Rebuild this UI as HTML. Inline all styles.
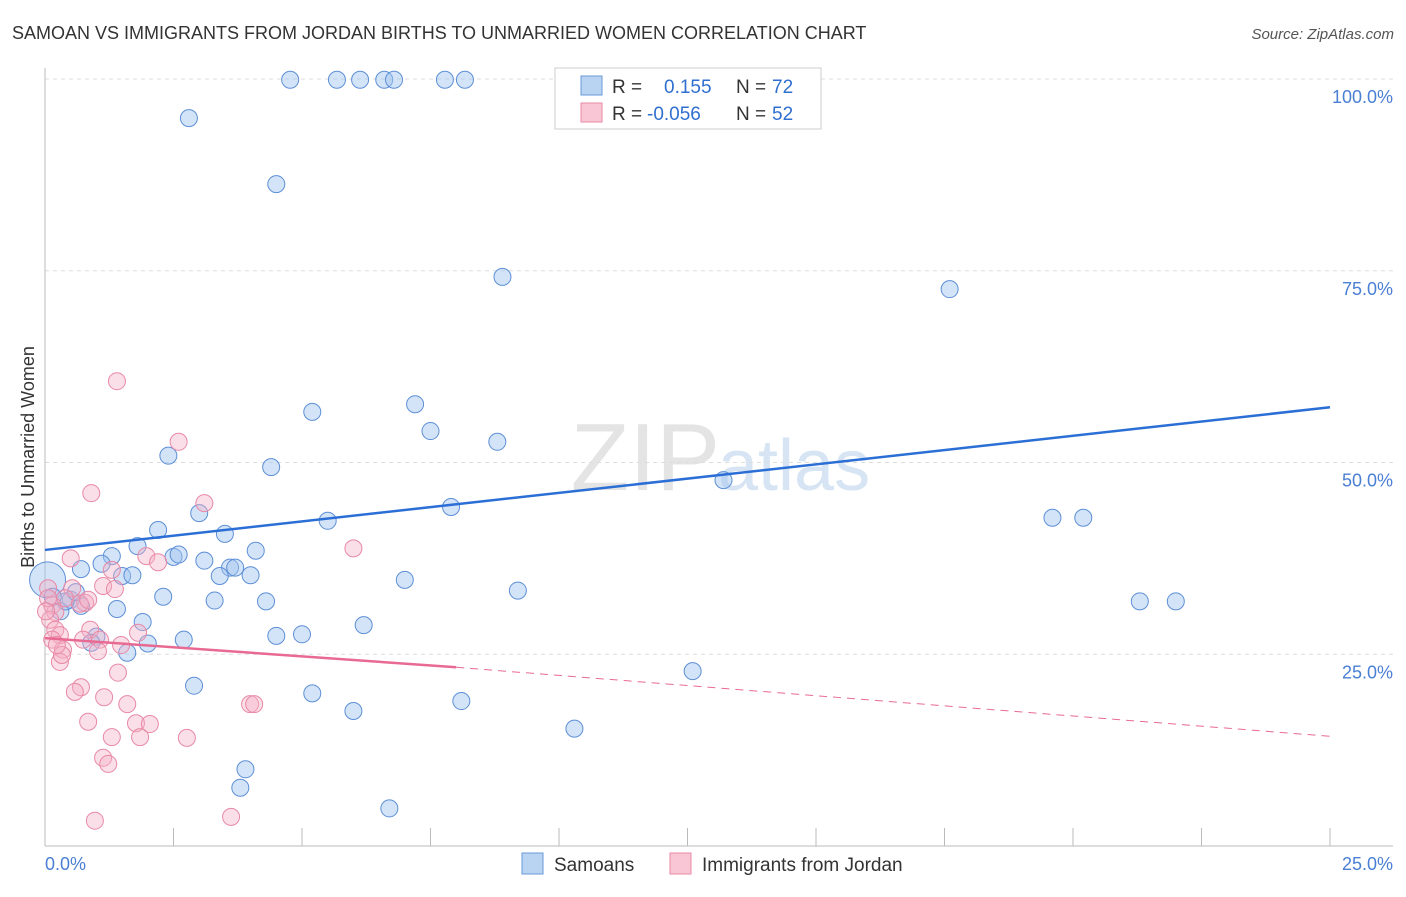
<!DOCTYPE html>
<html><head><meta charset="utf-8"><style>
body{margin:0;background:#fff;font-family:"Liberation Sans",sans-serif;}
svg text{font-family:"Liberation Sans",sans-serif;}
</style></head><body>
<svg id="c" width="1406" height="892">
<text x="12" y="39" font-size="18" fill="#333">SAMOAN VS IMMIGRANTS FROM JORDAN BIRTHS TO UNMARRIED WOMEN CORRELATION CHART</text>
<text x="1394" y="39" font-size="15" fill="#555" font-style="italic" text-anchor="end">Source: ZipAtlas.com</text>
<text x="720" y="490" font-size="96" fill="#e4e4e4" font-family="Liberation Serif" text-anchor="end">ZIP</text>
<text x="718" y="490" font-size="72" fill="#d6e4f3">atlas</text>
<g id="grid"></g><g id="pts"></g><g id="lines"></g>
<text transform="translate(34,457) rotate(-90)" font-size="18" fill="#333" text-anchor="middle">Births to Unmarried Women</text>
<text x="45" y="870" font-size="18" fill="#4a7fd4">0.0%</text>
<text x="1393" y="870" font-size="18" fill="#4a7fd4" text-anchor="end">25.0%</text>
<g>
<rect x="555" y="68" width="266" height="61" fill="#fff" stroke="#ccc"/>
<rect x="581" y="76" width="21" height="19" fill="#b9d3f3" stroke="#6a9ad8"/>
<rect x="581" y="103" width="21" height="19" fill="#f8c6d4" stroke="#e889a6"/>
<text x="612" y="93" font-size="19" fill="#333">R = </text><text x="664" y="93" font-size="19" fill="#2f6fd0">0.155</text>
<text x="736" y="93" font-size="19" fill="#333">N = </text><text x="772" y="93" font-size="19" fill="#2f6fd0">72</text>
<text x="612" y="120" font-size="19" fill="#333">R = </text><text x="647" y="120" font-size="19" fill="#2f6fd0">-0.056</text>
<text x="736" y="120" font-size="19" fill="#333">N = </text><text x="772" y="120" font-size="19" fill="#2f6fd0">52</text>
</g>
<g><rect x="522" y="853" width="21" height="21" fill="#b9d3f3" stroke="#6a9ad8"/><text x="554" y="871" font-size="19" fill="#333">Samoans</text></g>
<g><rect x="670" y="853" width="21" height="21" fill="#f8c6d4" stroke="#e889a6"/><text x="702" y="871" font-size="19" fill="#333">Immigrants from Jordan</text></g>
</svg>
<script>
const yTicks=[25,50,75,100];
const xTickCount=10;
const blueX=[4.77,5.68,6.13,6.60,6.79,7.78,8.17,2.8,4.5,8.9,17.6,5.2,7.2,7.5,8.8,2.4,4.4,13.2,7.9,5.5,19.6,20.2,2.2,3.0,3.5,4.1,1.3,2.5,2.6,3.1,1.8,0.7,1.1,3.6,3.7,1.5,1.7,3.4,4.0,7.0,9.2,2.3,3.3,4.3,1.4,0.3,0.5,0.7,21.3,22.0,1.9,6.2,4.5,5.0,2.7,2.0,1.0,0.9,1.6,2.9,12.6,5.2,8.1,6.0,10.3,3.9,3.8,6.7,0.05,0.4,0.6,0.15];
const blueY=[99.9,99.9,99.9,99.9,99.9,99.9,99.9,94.9,86.3,74.2,72.6,56.6,57.6,54.1,52.7,50.9,49.4,47.7,44.2,42.4,42.8,42.8,41.2,43.4,40.7,38.5,37.8,37.7,38.0,37.2,39.1,36.1,36.8,36.3,36.3,35.2,35.3,35.2,35.3,34.7,33.3,32.5,32.0,31.9,30.9,30.6,32.1,31.3,31.9,31.9,29.2,28.8,27.4,27.6,26.9,26.4,27.3,26.5,25.2,20.9,22.8,19.9,18.9,17.6,15.3,10.0,7.6,4.9,34.7,31.9,33.1,32.5];
const pinkX=[1.4,2.6,0.9,3.1,6.0,0.5,1.97,2.2,1.3,0.06,0.53,1.13,1.36,0.39,0.78,0.68,0.84,0.14,0.2,0.1,0.2,0.88,0.29,1.81,0.74,1.07,1.48,0.35,1.03,0.29,1.42,0.7,0.58,1.15,1.6,0.84,3.99,4.07,1.77,2.04,1.3,1.85,2.76,1.13,1.23,0.97,3.62,0.06,0.14,0.33,0.23,0.02];
const pinkY=[60.6,52.7,46.0,44.7,38.8,37.5,37.8,37.0,36.0,33.6,33.6,33.9,33.5,32.3,31.7,31.6,32.1,31.4,30.5,29.5,28.2,28.2,27.5,27.8,26.9,26.9,26.2,25.6,25.4,24.0,22.6,20.7,20.1,19.4,18.5,16.2,18.5,18.5,16.0,15.9,14.2,14.2,14.1,11.5,10.7,3.3,3.8,32.3,26.9,24.9,26.2,30.6];
const blueR=[[0,38.6],[25,57.2]];
const pinkR=[[0,27.1],[8.0,23.3],[25,14.3]];
const X0=45,X1=1330,Y0=846,Ypx=7.67;
const xs=v=>X0+v/25*(X1-X0), ys=v=>Y0-v*Ypx;
const NS="http://www.w3.org/2000/svg";
function mk(t,a,p){const e=document.createElementNS(NS,t);for(const k in a)e.setAttribute(k,a[k]);p.appendChild(e);return e;}
const g=document.getElementById('grid');
yTicks.forEach(t=>{
 const l=mk('line',{x1:45,x2:1393,y1:ys(t),y2:ys(t),stroke:'#ddd','stroke-dasharray':'4,4'},g);
 
 
 const tx=mk('text',{x:1393,y:ys(t)+24,'font-size':18,fill:'#4a7fd4','text-anchor':'end'},g);tx.textContent=t.toFixed(1)+'%';
 
 
});
mk('line',{x1:45,x2:45,y1:68,y2:846,stroke:'#bbb'},g);
mk('line',{x1:45,x2:1393,y1:846,y2:846,stroke:'#bbb'},g);
for(let i=1;i<=xTickCount;i++){const x=xs(i*2.5);const t=mk('line',{x1:x,x2:x,y1:828,y2:846,stroke:'#bbb'},g);
 
 }
const p=document.getElementById('pts');
blueX.forEach((v,i)=>{const c=mk('circle',{cx:xs(v),cy:ys(blueY[i]),r:(i==68?18:8.5),fill:'rgba(160,196,240,0.45)',stroke:'#5d8fd6','stroke-width':1},p);
 
 });
pinkX.forEach((v,i)=>{const c=mk('circle',{cx:xs(v),cy:ys(pinkY[i]),r:8.5,fill:'rgba(246,176,198,0.4)',stroke:'#e889a6','stroke-width':1},p);
 
 });
const L=document.getElementById('lines');
const bl=mk('line',{x1:xs(blueR[0][0]),y1:ys(blueR[0][1]),x2:xs(blueR[1][0]),y2:ys(blueR[1][1]),stroke:'#2b6fd6','stroke-width':2.5},L);


const pl=mk('line',{x1:xs(pinkR[0][0]),y1:ys(pinkR[0][1]),x2:xs(pinkR[1][0]),y2:ys(pinkR[1][1]),stroke:'#e86a92','stroke-width':2.5},L);


const pd=mk('line',{x1:xs(pinkR[1][0]),y1:ys(pinkR[1][1]),x2:xs(pinkR[2][0]),y2:ys(pinkR[2][1]),stroke:'#e86a92','stroke-width':1,'stroke-dasharray':'8,6'},L);


</script>
</body></html>
